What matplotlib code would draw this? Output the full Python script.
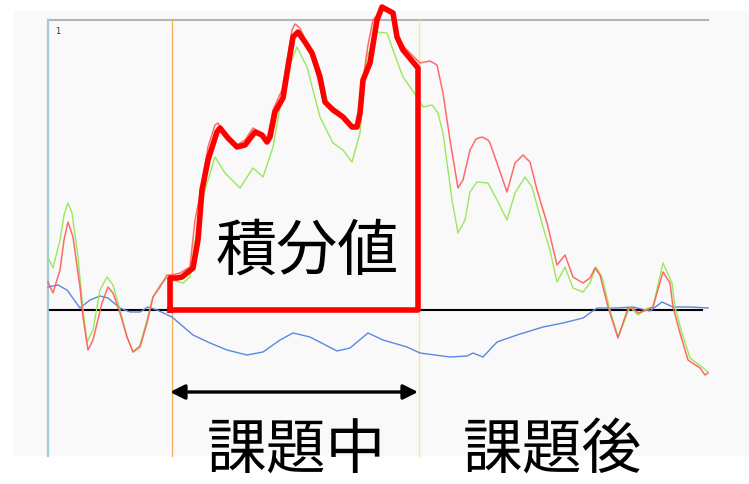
import matplotlib
matplotlib.use("Agg")
import matplotlib.pyplot as plt
from matplotlib.patches import Rectangle

plt.rcParams["font.family"] = ["Noto Sans CJK JP", "DejaVu Sans"]

# time axis: sample index, values: signal amplitude (0 = baseline)
red_t = [0, 5, 12, 16, 20, 25, 32, 35, 40, 45, 54, 60, 65, 72, 79, 85, 92, 99, 105,
         112, 119, 124, 132, 142, 147, 152, 160, 167, 170, 179, 189, 197, 205, 212,
         219, 225, 234, 240, 244, 247, 252, 262, 269, 275, 289, 297, 305, 310, 315,
         320, 325, 332, 337, 345, 350, 359, 366, 372, 382, 389, 395, 402, 410, 415,
         422, 428, 434, 440, 442, 449, 459, 467, 475, 482, 489, 499, 509, 517, 525,
         535, 542, 547, 552, 560, 570, 580, 585, 590, 599, 605, 615, 622, 625, 632,
         640, 652, 657, 660]
red_v = [28, 17, 40, 70, 88, 73, 23, -7, -40, -30, 7, 23, 17, -3, -27, -42, -37, -13,
         13, 23, 35, 35, 37, 43, 90, 115, 163, 185, 187, 173, 165, 170, 182, 178, 170,
         200, 220, 255, 280, 286, 282, 260, 235, 210, 200, 193, 183, 187, 230, 265,
         290, 298, 300, 295, 270, 260, 253, 247, 249, 245, 217, 170, 122, 130, 160,
         171, 173, 170, 167, 147, 118, 147, 155, 148, 120, 87, 45, 55, 33, 27, 32, 42,
         35, 3, -28, 2, 2, -3, 0, 3, 38, 27, 3, -23, -50, -58, -65, -63]

green_t = [0, 5, 12, 16, 20, 24, 30, 35, 39, 45, 52, 59, 65, 72, 79, 85, 92, 99, 105,
           112, 119, 124, 135, 142, 147, 154, 167, 177, 192, 205, 215, 225, 235, 242,
           249, 259, 272, 285, 295, 304, 312, 319, 329, 339, 345, 355, 369, 375, 384,
           390, 395, 404, 410, 417, 422, 429, 440, 449, 459, 467, 477, 484, 495, 502,
           509, 517, 525, 535, 542, 548, 554, 562, 570, 582, 590, 600, 605, 615, 624,
           627, 634, 642, 654, 660]
green_v = [53, 42, 70, 95, 107, 97, 53, 0, -32, -20, 20, 33, 25, 0, -27, -42, -35,
           -10, 13, 25, 32, 30, 27, 33, 70, 110, 153, 137, 122, 142, 133, 163, 220,
           245, 263, 243, 193, 167, 160, 148, 177, 253, 278, 277, 260, 233, 213, 203,
           205, 197, 177, 110, 77, 90, 118, 128, 127, 110, 90, 117, 133, 123, 83, 60,
           28, 43, 22, 18, 27, 43, 33, 0, -27, 3, -5, 2, 3, 47, 27, 3, -23, -48, -57,
           -62]

blue_t = [0, 10, 19, 32, 42, 52, 60, 72, 82, 92, 100, 109, 124, 145, 162, 179, 199,
          215, 232, 245, 262, 289, 302, 320, 335, 359, 372, 402, 419, 425, 435, 449,
          469, 495, 515, 535, 549, 569, 585, 602, 614, 625, 642, 660]
blue_v = [23, 25, 20, 2, 10, 14, 12, 2, -2, -2, 3, 0, -7, -25, -33, -40, -45, -42,
          -30, -23, -27, -41, -38, -23, -30, -37, -43, -47, -46, -43, -47, -32, -25,
          -17, -13, -8, 2, 2, 3, -1, 8, 3, 3, 2]

# thick outline of the integrated area during the task
integ_t = [122, 122, 129, 134, 145, 150, 154, 160, 169, 172, 180, 189, 197, 207, 214,
           219, 222, 227, 235, 240, 245, 250, 257, 264, 272, 277, 285, 295, 304, 309,
           312, 315, 322, 329, 334, 345, 349, 355, 365, 370, 370]
integ_v = [0, 32, 32, 33, 42, 70, 120, 150, 178, 182, 172, 163, 165, 178, 175, 168,
           173, 198, 212, 243, 273, 278, 268, 257, 233, 208, 200, 193, 183, 183, 197,
           230, 247, 290, 303, 297, 273, 260, 248, 242, 0]

task_start = 124
task_end = 371
baseline_span = (2, 654)

fig = plt.figure(figsize=(7.49, 4.84), dpi=100)
fig.patch.set_facecolor("white")
ax = fig.add_axes([0, 0, 1, 1])
ax.set_xlim(-48, 701)
ax.set_ylim(-174, 310)
ax.axis("off")

# panel background and frame
ax.add_patch(Rectangle((-34, -146), 735, 445, facecolor="#f9f9f9",
                       edgecolor="none", zorder=0))
ax.plot([0, 660], [290, 290], color="#b4b4b4", lw=1.5, zorder=1)
ax.plot([0, 0], [-146, 290], color="#9fcad6", lw=1.6, zorder=1)
ax.plot([task_start, task_start], [-146, 290], color="#f5b25c", lw=0.9, zorder=1)
ax.plot([task_end, task_end], [-146, 290], color="#fff04a", lw=0.9, zorder=1)
ax.text(7, 279, "1", fontsize=6, color="#333333", family="DejaVu Sans",
        ha="left", va="center")

ax.plot(baseline_span, [0, 0], color="black", lw=1.5, zorder=2)
ax.plot(blue_t, blue_v, color="#5a88e0", lw=1.0, zorder=3,
        solid_joinstyle="round")
ax.plot(green_t, green_v, color="#9ae85a", lw=1.0, zorder=3,
        solid_joinstyle="round")
ax.plot(red_t, red_v, color="#ff5a5a", lw=1.1, alpha=0.9, zorder=4,
        solid_joinstyle="round")
ax.plot(integ_t + integ_t[:1], integ_v + integ_v[:1], color="#ff0000", lw=4,
        zorder=5, solid_joinstyle="round")

ax.text(259, 58, "積分値", fontsize=44, color="black", ha="center", va="center",
        zorder=6)

ax.annotate("", xy=(122, -82), xytext=(370, -82),
            arrowprops=dict(arrowstyle="<|-|>", color="black", lw=2.4,
                            mutation_scale=22, shrinkA=0, shrinkB=0), zorder=6)

ax.text(248, -142, "課題中", fontsize=43, color="black", ha="center",
        va="center", zorder=6)
ax.text(504, -141, "課題後", fontsize=43, color="black", ha="center",
        va="center", zorder=6)

fig.savefig("out.png", dpi=100, facecolor="white")
